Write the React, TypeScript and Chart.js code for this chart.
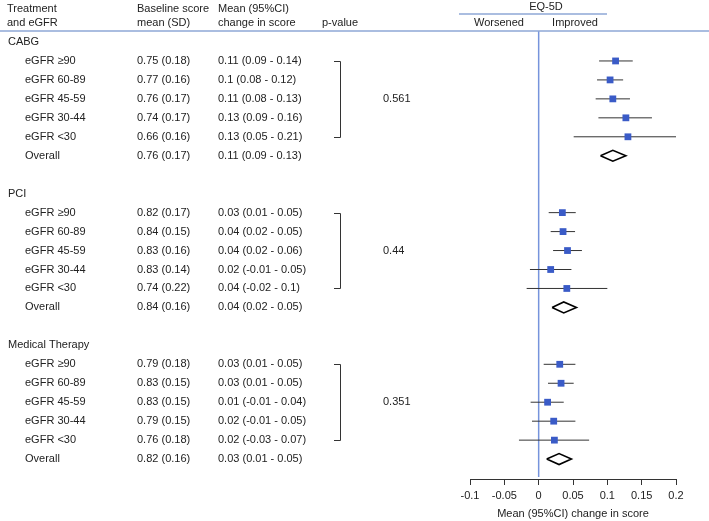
import React, { useEffect, useRef } from "react";
import { Chart, registerables } from "chart.js";
Chart.register(...registerables);

const groups = ["CABG", "PCI", "Medical Therapy"];
const subgroups = ["eGFR ≥90", "eGFR 60-89", "eGFR 45-59", "eGFR 30-44", "eGFR <30", "Overall"];

const baselineCABG = ["0.75 (0.18)", "0.77 (0.16)", "0.76 (0.17)", "0.74 (0.17)", "0.66 (0.16)", "0.76 (0.17)"];
const baselinePCI = ["0.82 (0.17)", "0.84 (0.15)", "0.83 (0.16)", "0.83 (0.14)", "0.74 (0.22)", "0.84 (0.16)"];
const baselineMed = ["0.79 (0.18)", "0.83 (0.15)", "0.83 (0.15)", "0.79 (0.15)", "0.76 (0.18)", "0.82 (0.16)"];

const changeCABG = ["0.11 (0.09 - 0.14)", "0.1 (0.08 - 0.12)", "0.11 (0.08 - 0.13)", "0.13 (0.09 - 0.16)", "0.13 (0.05 - 0.21)", "0.11 (0.09 - 0.13)"];
const changePCI = ["0.03 (0.01 - 0.05)", "0.04 (0.02 - 0.05)", "0.04 (0.02 - 0.06)", "0.02 (-0.01 - 0.05)", "0.04 (-0.02 - 0.1)", "0.04 (0.02 - 0.05)"];
const changeMed = ["0.03 (0.01 - 0.05)", "0.03 (0.01 - 0.05)", "0.01 (-0.01 - 0.04)", "0.02 (-0.01 - 0.05)", "0.02 (-0.03 - 0.07)", "0.03 (0.01 - 0.05)"];

const pValues = ["0.561", "0.44", "0.351"];

// plotted estimates (last entry = overall diamond)
const estCABG = [0.112, 0.104, 0.108, 0.127, 0.130, 0.108];
const loCABG = [0.088, 0.085, 0.083, 0.087, 0.051, 0.090];
const hiCABG = [0.137, 0.123, 0.133, 0.165, 0.210, 0.127];

const estPCI = [0.0345, 0.0355, 0.042, 0.0175, 0.041, 0.0365];
const loPCI = [0.0146, 0.0175, 0.021, -0.0127, -0.0175, 0.0195];
const hiPCI = [0.054, 0.053, 0.063, 0.0477, 0.100, 0.055];

const estMed = [0.0307, 0.0326, 0.013, 0.0219, 0.0229, 0.0297];
const loMed = [0.0073, 0.0136, -0.0117, -0.0097, -0.0287, 0.0117];
const hiMed = [0.0535, 0.051, 0.0365, 0.0535, 0.0735, 0.0477];

const xTicks = [-0.1, -0.05, 0, 0.05, 0.1, 0.15, 0.2];
const xTickLabels = ["-0.1", "-0.05", "0", "0.05", "0.1", "0.15", "0.2"];

const FAMILY = "'Liberation Sans', Arial, sans-serif";
const FONT = "11px " + FAMILY;
const TEXT = "#222";
const BLUE_LINE = "#7694dc";
const HEADER_LINE = "#8fa8d6";
const SQUARE = "#3a5bc7";

const est = [estCABG, estPCI, estMed];
const lo = [loCABG, loPCI, loMed];
const hi = [hiCABG, hiPCI, hiMed];
const baseline = [baselineCABG, baselinePCI, baselineMed];
const change = [changeCABG, changePCI, changeMed];

const rowOf = (g: number, i: number) => g * 8 + 1 + i;

export default function App() {
  const ref = useRef<HTMLCanvasElement | null>(null);
  useEffect(() => {
    if (!ref.current) return;
    const datasets: any[] = [];
    datasets.push({
      label: "zero",
      data: [{ x: 0, y: -0.6 }, { x: 0, y: 22.95 }],
      showLine: true,
      borderColor: BLUE_LINE,
      borderWidth: 1.5,
      pointRadius: 0,
      order: 5,
    });
    groups.forEach((_, g) => {
      for (let i = 0; i < 5; i++) {
        datasets.push({
          label: "ci",
          data: [{ x: lo[g][i], y: rowOf(g, i) }, { x: hi[g][i], y: rowOf(g, i) }],
          showLine: true,
          borderColor: "#333",
          borderWidth: 1,
          pointRadius: 0,
          order: 3,
        });
      }
      const r = rowOf(g, 5);
      const h = 0.29;
      datasets.push({
        label: "diamond",
        data: [
          { x: lo[g][5], y: r },
          { x: est[g][5], y: r - h },
          { x: hi[g][5], y: r },
          { x: est[g][5], y: r + h },
          { x: lo[g][5], y: r },
        ],
        showLine: true,
        borderColor: "#000",
        borderWidth: 1.6,
        fill: false,
        pointRadius: 0,
        tension: 0,
        order: 1,
      });
    });
    const sq: any[] = [];
    groups.forEach((_, g) => {
      for (let i = 0; i < 5; i++) sq.push({ x: est[g][i], y: rowOf(g, i) });
    });
    datasets.push({
      label: "est",
      data: sq,
      pointStyle: "rect",
      pointRadius: 4.8,
      pointBackgroundColor: SQUARE,
      pointBorderWidth: 0,
      showLine: false,
      order: 0,
    });

    const tablePlugin = {
      id: "table",
      afterDraw(chart: any) {
        const ctx = chart.ctx;
        const ys = chart.scales.y;
        ctx.save();
        ctx.font = FONT;
        ctx.fillStyle = TEXT;
        ctx.textBaseline = "middle";
        ctx.textAlign = "left";
        // headers
        ctx.fillText("Treatment", 7, 9);
        ctx.fillText("and eGFR", 7, 23);
        ctx.fillText("Baseline score", 137, 9);
        ctx.fillText("mean (SD)", 137, 23);
        ctx.fillText("Mean (95%CI)", 218, 9);
        ctx.fillText("change in score", 218, 23);
        ctx.fillText("p-value", 322, 23);
        ctx.textAlign = "center";
        ctx.fillText("EQ-5D", 546, 7);
        ctx.fillText("Worsened", 499, 23);
        ctx.fillText("Improved", 575, 23);
        // header lines
        ctx.strokeStyle = HEADER_LINE;
        ctx.lineWidth = 1.5;
        ctx.beginPath();
        ctx.moveTo(0, 31);
        ctx.lineTo(709, 31);
        ctx.moveTo(459, 14);
        ctx.lineTo(607, 14);
        ctx.stroke();
        // rows
        ctx.textAlign = "left";
        groups.forEach((name, g) => {
          ctx.fillStyle = TEXT;
          ctx.fillText(name, 8, ys.getPixelForValue(g * 8));
          subgroups.forEach((s, i) => {
            const y = ys.getPixelForValue(rowOf(g, i));
            ctx.fillText(s, 25, y);
            ctx.fillText(baseline[g][i], 137, y);
            ctx.fillText(change[g][i], 218, y);
          });
          ctx.fillText(pValues[g], 383, ys.getPixelForValue(rowOf(g, 2)));
          const yt = Math.round(ys.getPixelForValue(rowOf(g, 0))) + 0.5;
          const yb = Math.round(ys.getPixelForValue(rowOf(g, 4))) + 0.5;
          ctx.strokeStyle = "#333";
          ctx.lineWidth = 1;
          ctx.beginPath();
          ctx.moveTo(334, yt);
          ctx.lineTo(340.5, yt);
          ctx.lineTo(340.5, yb);
          ctx.lineTo(334, yb);
          ctx.stroke();
        });
        ctx.restore();
      },
    };

    const chart = new Chart(ref.current, {
      type: "scatter",
      data: { datasets },
      plugins: [tablePlugin],
      options: {
        animation: false,
        responsive: false,
        maintainAspectRatio: false,
        layout: { padding: { top: 31, left: 470, right: 33, bottom: 0 } },
        plugins: { legend: { display: false }, tooltip: { enabled: false } },
        scales: {
          x: {
            type: "linear",
            position: "bottom",
            min: -0.1,
            max: 0.2,
            afterBuildTicks: (s: any) => {
              s.ticks = xTicks.map((v) => ({ value: v }));
            },
            afterFit: (s: any) => {
              s.height = 42;
            },
            ticks: {
              autoSkip: false,
              maxRotation: 0,
              padding: 4,
              color: TEXT,
              font: { size: 11, family: FAMILY },
              callback: (_v: any, i: number) => xTickLabels[i],
            },
            grid: {
              display: true,
              drawOnChartArea: false,
              drawTicks: true,
              tickLength: 6,
              color: "#333",
              lineWidth: 1,
            },
            border: { display: true, color: "#333", width: 1 },
            title: {
              display: true,
              text: "Mean (95%CI) change in score",
              color: TEXT,
              font: { size: 11, family: FAMILY },
              padding: 0,
            },
          },
          y: {
            type: "linear",
            display: false,
            reverse: true,
            min: -0.58,
            max: 23.05,
          },
        },
      },
    });
    return () => chart.destroy();
  }, []);
  return (
    <div style={{ position: "absolute", left: 0, top: 0, width: 709, height: 521, background: "#fff" }}>
      <canvas ref={ref} width={709} height={521} style={{ width: 709, height: 521 }} />
    </div>
  );
}
